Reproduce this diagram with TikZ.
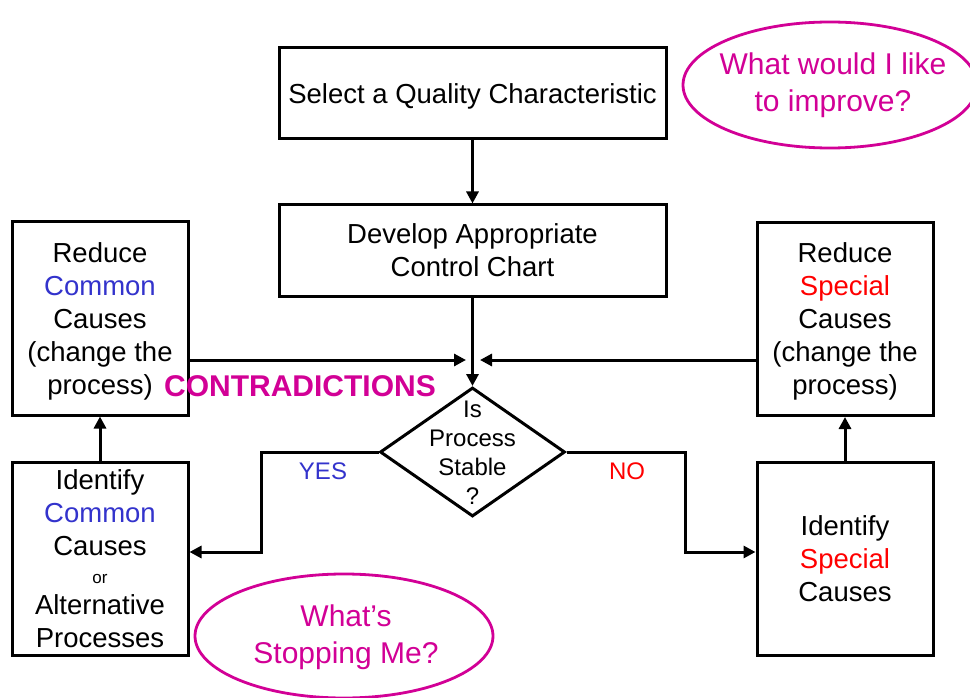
\documentclass[tikz,border=0pt]{standalone}
\usepackage{fontspec}
\setmainfont{Liberation Sans}
\usetikzlibrary{shapes.geometric,arrows.meta}
\definecolor{mag}{RGB}{210,0,150}
\definecolor{cblue}{RGB}{51,51,204}
\definecolor{cred}{RGB}{255,0,0}
\begin{document}
\begin{tikzpicture}[x=1pt,y=-1pt,
  box/.style={draw,line width=3pt,align=center,inner sep=0pt,text depth=0pt,font=\fontsize{27.5}{33}\selectfont},
  wide/.style={minimum width=387pt,minimum height=91pt},
  side/.style={minimum width=176pt,minimum height=193pt},
  arr/.style={line width=3pt,-{Triangle[length=12pt,width=12pt]}},
  bubble/.style={ellipse,draw=mag,line width=2.8pt,inner sep=0pt},
  btext/.style={text=mag,align=center,font=\fontsize{30}{37}\selectfont}]
\useasboundingbox (0,0) rectangle (970,698);
\clip (0,0) rectangle (970,698);
\fill[white] (0,0) rectangle (970,698);

\node[box,wide] (sel) at (472.5,93.5) {Select a Quality Characteristic};
\node[box,wide] (dev) at (472.5,250.5) {Develop Appropriate\\Control Chart};
\node[box,side] (lt) at (100,318.5) {Reduce\\\textcolor{cblue}{Common}\\Causes\\(change the\\process)};
\node[box,side] (lb) at (100,558.5) {Identify\\\textcolor{cblue}{Common}\\Causes\\[-5pt]{\fontsize{17}{20}\selectfont or}\\[-2pt]Alternative\\Processes};
\node[box,side] (rt) at (845,319) {Reduce\\\textcolor{cred}{Special}\\Causes\\(change the\\process)};
\node[box,side] (rb) at (845,558.5) {Identify\\\textcolor{cred}{Special}\\Causes};

\node[diamond,draw,line width=3pt,minimum width=185pt,minimum height=129pt,inner sep=0pt] (d) at (472.5,452) {};
\node[align=center,font=\fontsize{24}{29}\selectfont] (dt) at (472.5,453) {Is\\Process\\Stable\\?};

\node[text=mag,font=\bfseries\fontsize{30}{36}\selectfont] (con) at (300,386) {CONTRADICTIONS};
\node[text=cblue,font=\fontsize{24}{28}\selectfont] (yes) at (323,471) {YES};
\node[text=cred,font=\fontsize{24}{28}\selectfont] (no) at (627,471) {NO};

\node[bubble,minimum width=294pt,minimum height=126pt] (q1) at (830,85) {};
\node[btext] (q1t) at (833,85) {What would I like\\to improve?};
\node[bubble,minimum width=298pt,minimum height=124pt] (q2) at (344,636) {};
\node[btext] (q2t) at (346,637) {What’s\\Stopping Me?};

\coordinate (hl) at (466,360);
\coordinate (hr) at (480,360);
\coordinate (yb) at (261,552);
\coordinate (nb) at (685,552);

\draw[arr] (sel.south) -- (dev.north);
\draw[arr] (dev.south) -- (d.north);
\draw[arr] (lt.east |- hl) -- (hl);
\draw[arr] (rt.west |- hr) -- (hr);
\draw[arr] (d.west) -| (yb) -- (lb.east |- yb);
\draw[arr] (d.east) -| (nb) -- (rb.west |- nb);
\draw[arr] (lb.north) -- (lt.south);
\draw[arr] (rb.north) -- (rt.south);
\end{tikzpicture}
\end{document}
